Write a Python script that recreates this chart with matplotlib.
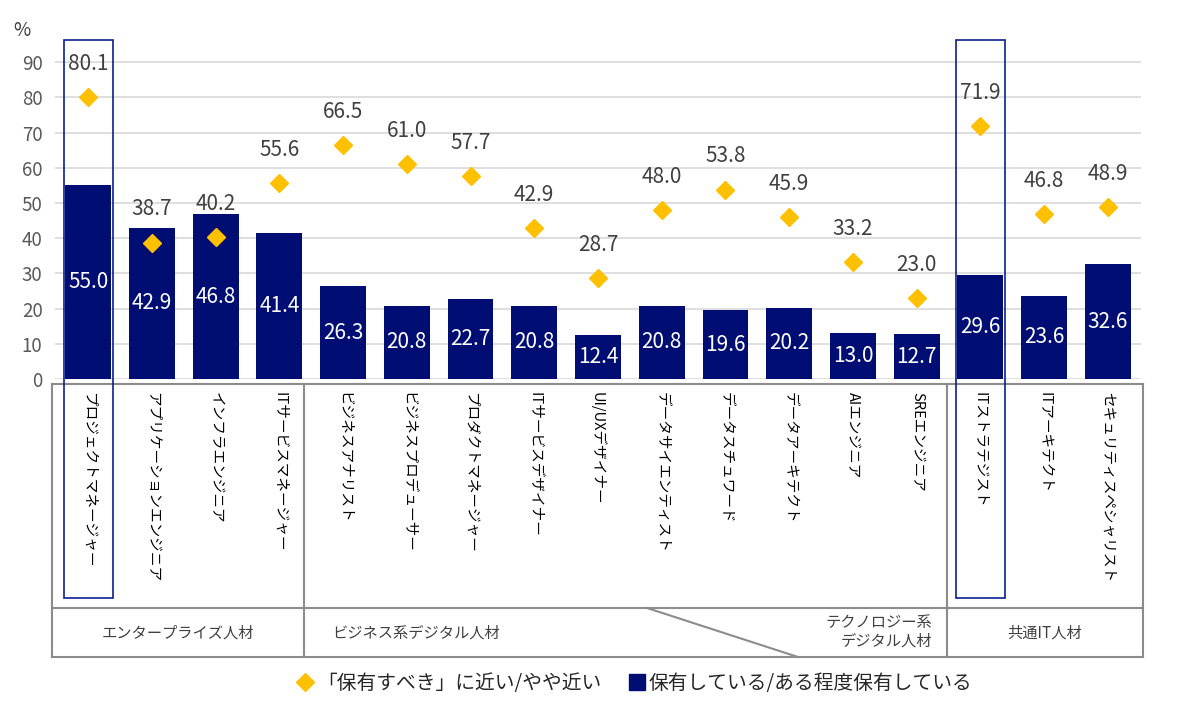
import matplotlib
matplotlib.use("Agg")
import matplotlib.pyplot as plt
from matplotlib.lines import Line2D
from matplotlib.patches import Rectangle
from matplotlib.transforms import blended_transform_factory
import numpy as np

plt.rcParams['font.family'] = ['Noto Sans CJK JP', 'DejaVu Sans']

categories = ["プロジェクトマネージャー", "アプリケーションエンジニア", "インフラエンジニア",
              "ITサービスマネージャー", "ビジネスアナリスト", "ビジネスプロデューサー",
              "プロダクトマネージャー", "ITサービスデザイナー", "UI/UXデザイナー",
              "データサイエンティスト", "データスチュワード", "データアーキテクト",
              "AIエンジニア", "SREエンジニア", "ITストラテジスト", "ITアーキテクト",
              "セキュリティスペシャリスト"]
should_have = [80.1, 38.7, 40.2, 55.6, 66.5, 61.0, 57.7, 42.9, 28.7, 48.0, 53.8,
               45.9, 33.2, 23.0, 71.9, 46.8, 48.9]
have = [55.0, 42.9, 46.8, 41.4, 26.3, 20.8, 22.7, 20.8, 12.4, 20.8, 19.6, 20.2,
        13.0, 12.7, 29.6, 23.6, 32.6]
highlight = [0, 14]
yticks = [0, 10, 20, 30, 40, 50, 60, 70, 80, 90]
legend_labels = ["「保有すべき」に近い/やや近い", "保有している/ある程度保有している"]

NAVY = "#000E73"
GOLD = "#FFC000"
W, H = 1200, 709


def fx(px):
    return px / W


def fy(py):
    return 1 - py / H


fig = plt.figure(figsize=(12, 7.09), dpi=100)
ax = fig.add_axes([fx(55), fy(379), fx(1141) - fx(55), fy(40) - fy(379)])
x = np.arange(len(categories))

ax.bar(x, have, width=0.72, color=NAVY, zorder=2)
ax.plot(x, should_have, linestyle="none", marker="D", markersize=9.5,
        color=GOLD, zorder=3)

for xi, v in zip(x, have):
    ax.text(xi, v / 2, f"{v:.1f}", ha="center", va="center", color="white",
            fontsize=15, zorder=4)
for xi, v in zip(x, should_have):
    ax.annotate(f"{v:.1f}", (xi, v), xytext=(0, 24), textcoords="offset points",
                ha="center", va="center", color="#404040", fontsize=15)

ax.set_xlim(-0.52, len(categories) - 0.48)
ax.set_ylim(0, 96.3)
ax.set_yticks(yticks)
ax.tick_params(axis="y", length=0, labelsize=13.5, labelcolor="#595959", pad=9)
ax.set_xticks([])
ax.grid(axis="y", color="#D9D9D9", linewidth=1.2, zorder=0)
for s in ax.spines.values():
    s.set_visible(False)
fig.text(fx(22), fy(30), "%", ha="center", va="center", fontsize=13.5, color="#404040")

# category labels, vertical
bt = blended_transform_factory(ax.transData, fig.transFigure)
for xi, name in zip(x, categories):
    fig.text(xi, fy(392), name, transform=bt, rotation=270, ha="center", va="top",
             fontsize=10.5, color="#000000")

# highlight boxes
for i in highlight:
    fig.add_artist(Rectangle((i - 0.385, fy(598)), 0.77, fy(40) - fy(598),
                             transform=bt, fill=False, edgecolor="#0A1F8F",
                             linewidth=1.2, zorder=5))

# table
gray = "#8C8C8C"
segs = [((52, 384), (1143, 384)), ((52, 608), (1143, 608)), ((52, 657), (1143, 657)),
        ((52, 384), (52, 657)), ((1143, 384), (1143, 657)),
        ((304, 384), (304, 657)), ((947, 384), (947, 657)),
        ((647, 608), (798, 657))]
for (x0, y0), (x1, y1) in segs:
    fig.add_artist(Line2D([fx(x0), fx(x1)], [fy(y0), fy(y1)], color=gray,
                          linewidth=1.5, transform=fig.transFigure))

fig.text(fx(178), fy(633), "エンタープライズ人材", ha="center", va="center",
         fontsize=11, color="#404040")
fig.text(fx(332), fy(633), "ビジネス系デジタル人材", ha="left", va="center",
         fontsize=11, color="#404040")
fig.text(fx(932), fy(632), "テクノロジー系\nデジタル人材", ha="right", va="center",
         fontsize=11, color="#404040", linespacing=1.1)
fig.text(fx(1045), fy(633), "共通IT人材", ha="center", va="center",
         fontsize=11, color="#404040")

handles = [Line2D([], [], linestyle="none", marker="D", markersize=9.5, color=GOLD),
           Line2D([], [], linestyle="none", marker="s", markersize=12, color=NAVY)]
fig.legend(handles, legend_labels, loc="center", bbox_to_anchor=(fx(634), fy(683)),
           ncol=2, frameon=False, fontsize=14.2, handletextpad=0.1, columnspacing=1.3,
           handlelength=1.0, labelcolor="#262626")

fig.savefig("out.png", dpi=100)
